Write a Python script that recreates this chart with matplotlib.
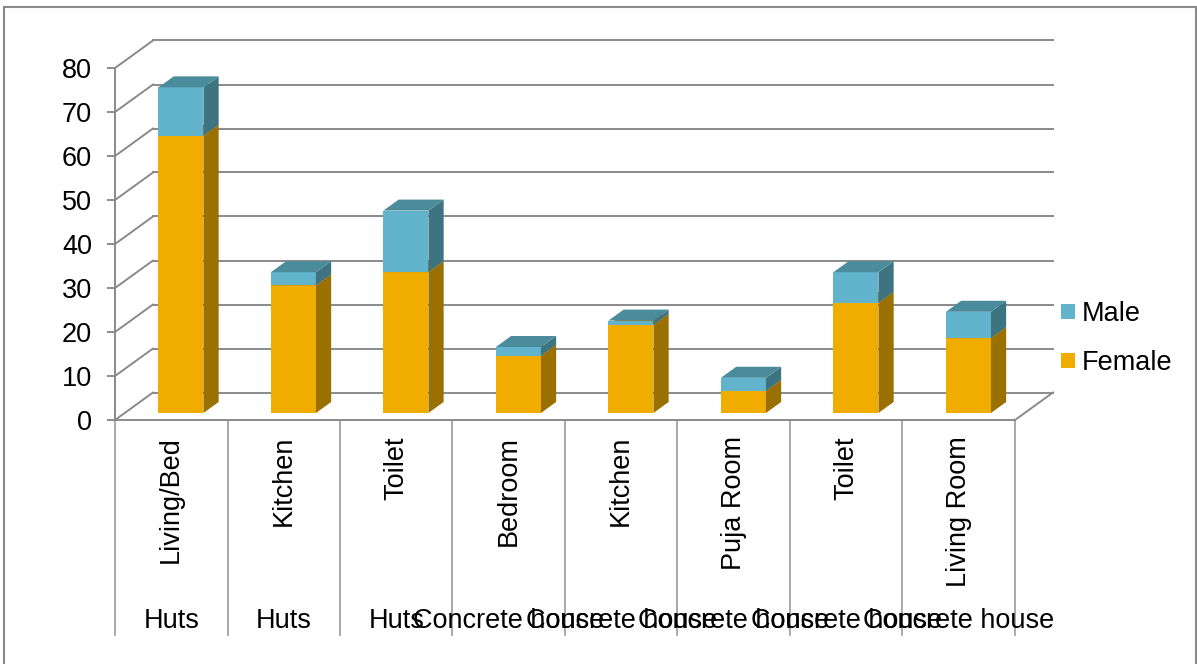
import matplotlib
matplotlib.use("Agg")
import matplotlib.pyplot as plt
from matplotlib.patches import Polygon, Rectangle, Patch
from matplotlib.transforms import offset_copy

plt.rcParams['font.family'] = ['Liberation Sans', 'DejaVu Sans']

rooms = ["Living/Bed", "Kitchen", "Toilet", "Bedroom", "Kitchen", "Puja Room", "Toilet", "Living Room"]
groups = ["Huts", "Huts", "Huts", "Concrete house", "Concrete house", "Concrete house", "Concrete house", "Concrete house"]
female = [63, 29, 32, 13, 20, 5, 25, 17]
male = [11, 3, 14, 2, 1, 3, 7, 6]
yticks = [0, 10, 20, 30, 40, 50, 60, 70, 80]

# colours
male_front, male_top, male_side = '#62B4CC', '#4A8B9C', '#3E7482'
fem_front, fem_top, fem_side = '#F0AD00', '#B88400', '#9A7000'
grid_c = '#8A8A8A'
FS = 19.5

W, H = 1197, 664
fig = plt.figure(figsize=(W / 100, H / 100), dpi=100)
# front plane of the 3D box
x0, x1, ytop, ybot = 115, 1015, 68, 420
ax = fig.add_axes([x0 / W, (H - ybot) / H, (x1 - x0) / W, (ybot - ytop) / H])
ax.set_xlim(0, len(rooms))
ax.set_ylim(0, 80)
ax.patch.set_alpha(0)

# oblique depth (data units)
FDX, FDY = 0.338, 6.25
BF, BD = 0.255, 0.40
BW = 0.40
n = len(rooms)

# back wall gridlines and left wall diagonals
for v in yticks:
    ax.plot([FDX, n + FDX], [v + FDY, v + FDY], color=grid_c, lw=1.4, clip_on=False, zorder=1)
    ax.plot([0, FDX], [v, v + FDY], color=grid_c, lw=1.4, clip_on=False, zorder=1)
# floor right edge
ax.plot([n, n + FDX], [0, FDY], color=grid_c, lw=1.4, clip_on=False, zorder=1)

# bars
bdx, bdy = BD * FDX, BD * FDY
for i in range(n):
    cx = i + 0.5 + BF * FDX
    l, r = cx - BW / 2, cx + BW / 2
    base = BF * FDY
    segs = [(base, base + female[i], fem_front, fem_top, fem_side),
            (base + female[i], base + female[i] + male[i], male_front, male_top, male_side)]
    for y0, y1, cf, ct, cs in segs:
        ax.add_patch(Rectangle((l, y0), BW, y1 - y0, facecolor=cf, edgecolor='none', clip_on=False, zorder=3))
        ax.add_patch(Polygon([(r, y0), (r + bdx, y0 + bdy), (r + bdx, y1 + bdy), (r, y1)],
                             closed=True, facecolor=cs, edgecolor='none', clip_on=False, zorder=3))
        ax.add_patch(Polygon([(l, y1), (r, y1), (r + bdx, y1 + bdy), (l + bdx, y1 + bdy)],
                             closed=True, facecolor=ct, edgecolor='none', clip_on=False, zorder=3))

# axes styling
for s in ['top', 'right']:
    ax.spines[s].set_visible(False)
ax.spines['left'].set_color(grid_c)
ax.spines['left'].set_linewidth(1.4)
ax.spines['bottom'].set_color(grid_c)
ax.spines['bottom'].set_linewidth(1.4)
ax.set_yticks(yticks)
ax.set_xticks([])
ax.tick_params(axis='y', direction='out', length=6, width=1.4, color=grid_c, pad=10.5,
               labelsize=FS, labelcolor='black')

# category dividers below the axis
xt = ax.get_xaxis_transform()
for i in range(n + 1):
    ax.plot([i, i], [0, -215 / 352], transform=xt, color='#9A9A9A', lw=1.2, clip_on=False)

tr_room = offset_copy(ax.transData, fig=fig, x=0, y=-16, units='dots')
tr_grp = offset_copy(ax.transData, fig=fig, x=0, y=-208, units='dots')
for i in range(n):
    ax.text(i + 0.5, 0, rooms[i], rotation=90, ha='center', va='top', fontsize=FS,
            transform=tr_room)
    ax.text(i + 0.5, 0, groups[i], ha='center', va='baseline', fontsize=FS,
            transform=tr_grp)

# legend
handles = [Patch(facecolor=male_front, label='Male'), Patch(facecolor=fem_front, label='Female')]
fig.legend(handles=handles, loc='upper left', bbox_to_anchor=(1061 / W, 1 - 301 / H),
           frameon=False, fontsize=FS, handlelength=0.52, handleheight=0.5,
           handletextpad=0.25, labelspacing=0.85, borderaxespad=0, borderpad=0)

# outer border
fig.add_artist(Rectangle((4 / W, -0.01), (1196 - 4) / W, (H - 7) / H + 0.01, transform=fig.transFigure,
                         fill=False, edgecolor='#8A8A8A', lw=1.5))

fig.savefig('out.png', dpi=100)
